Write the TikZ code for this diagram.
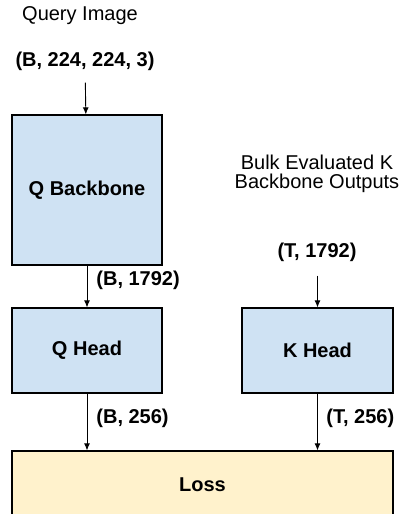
\documentclass[tikz,border=0pt]{standalone}
\usepackage{fontspec}
\setmainfont{Liberation Sans}
\usetikzlibrary{arrows.meta}
\definecolor{boxblue}{HTML}{CFE2F3}
\definecolor{boxyellow}{HTML}{FFF2CC}

\begin{document}
\begin{tikzpicture}[x=0.5pt,y=-0.5pt,
    block/.style={draw, line width=0.6pt, fill=boxblue, font=\bfseries,
      minimum width=75pt, minimum height=42.5pt, inner sep=0pt},
    dims/.style={font=\bfseries, inner sep=0pt},
    caption/.style={inner sep=0pt, align=center},
    flow/.style={-{Latex[length=3.5pt,width=3pt]}, line width=0.45pt}]
  \useasboundingbox (0,0) rectangle (405,514);
  \clip (0,0) rectangle (405,514);
  % query side
  \node[caption, anchor=base] (qimg) at (80,20) {Query Image};
  \node[dims, anchor=base] (qin) at (85,66) {(B, 224, 224, 3)};
  \node[block, minimum height=75pt] (qbb) at (87,190) {Q Backbone};
  \node[block] (qhd) at (87,350.5) {Q Head};
  \node[dims, anchor=base west] (qfeat) at (96,285) {(B, 1792)};
  \node[dims, anchor=base west] (qemb) at (96,423) {(B, 256)};
  % key side
  \node[caption, anchor=base, font=\fontsize{10}{9.5}\selectfont] (kimg) at (317,188)
    {Bulk Evaluated K\\Backbone Outputs};
  \node[dims, anchor=base] (kin) at (317,257) {(T, 1792)};
  \node[block, minimum width=75.5pt] (khd) at (317.5,350.5) {K Head};
  \node[dims, anchor=base west] (kemb) at (326,423) {(T, 256)};
  % loss
  \node[block, fill=boxyellow, minimum width=190.5pt, minimum height=34pt] (loss)
    at (202.5,485) {Loss};
  \draw[flow, shorten <=6pt] (qin) -- (qbb);
  \draw[flow] (qbb) -- (qhd);
  \draw[flow] (qhd.south) -- (qhd.south |- loss.north);
  \draw[flow, shorten <=7pt] (kin.south -| khd.north) -- (khd.north);
  \draw[flow] (khd.south) -- (khd.south |- loss.north);
\end{tikzpicture}
\end{document}
